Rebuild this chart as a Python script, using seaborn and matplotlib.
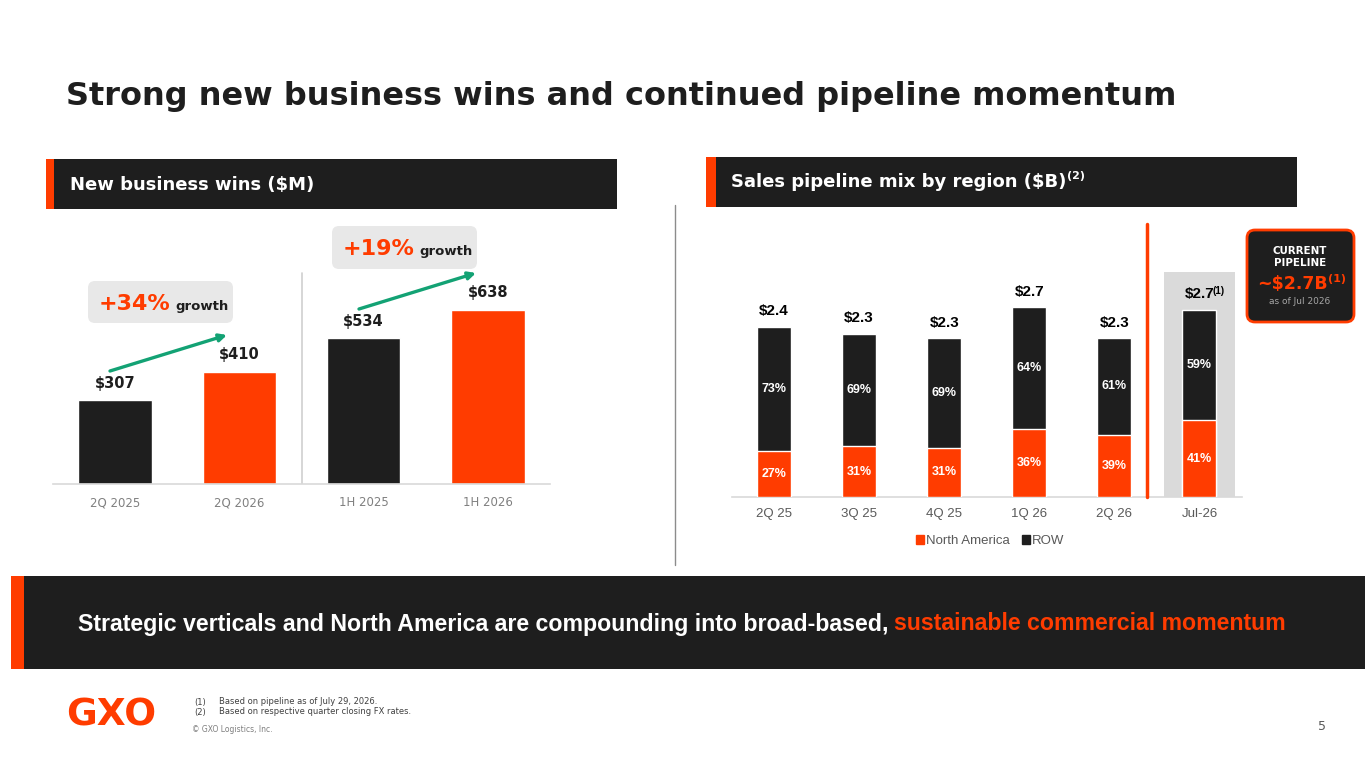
import matplotlib
matplotlib.use('Agg')
import matplotlib.pyplot as plt
from matplotlib.patches import FancyBboxPatch, Rectangle, Patch
import seaborn as sns

# ---- data ----
wins_periods = ['2Q 2025', '2Q 2026', '1H 2025', '1H 2026']
wins_values = [307, 410, 534, 638]
wins_labels = ['$307', '$410', '$534', '$638']
growth_labels = ['+34%', '+19%']

pipe_periods = ['2Q 25', '3Q 25', '4Q 25', '1Q 26', '2Q 26', 'Jul-26']
pipe_totals = [2.42, 2.32, 2.26, 2.70, 2.26, 2.66]
pipe_total_labels = ['$2.4', '$2.3', '$2.3', '$2.7', '$2.3', '$2.7']
na_share = [27, 31, 31, 36, 39, 41]
row_share = [73, 69, 69, 64, 61, 59]

ORANGE = '#FF3C00'
DARK = '#1E1E1E'
GREEN = '#13A274'

sns.set_theme(style='white')
plt.rcParams['font.family'] = ['DejaVu Sans']

W, H = 1365, 768
fig = plt.figure(figsize=(W / 100, H / 100), dpi=100)
fig.patch.set_facecolor('white')

# overlay in pixel coords for slide furniture (behind the charts)
bg = fig.add_axes([0, 0, 1, 1], zorder=0)
bg.set_xlim(0, W)
bg.set_ylim(H, 0)
bg.axis('off')
# overlay on top, for superscripts
fg = fig.add_axes([0, 0, 1, 1], zorder=5)
fg.set_xlim(0, W)
fg.set_ylim(H, 0)
fg.axis('off')
fg.patch.set_alpha(0)


def ax_rect(x0, y0, x1, y1):
    return [x0 / W, 1 - y1 / H, (x1 - x0) / W, (y1 - y0) / H]


def box(x0, y0, x1, y1, fc, **kw):
    bg.add_patch(Rectangle((x0, y0), x1 - x0, y1 - y0, facecolor=fc, edgecolor='none', **kw))


# title
bg.text(66, 97, 'Strong new business wins and continued pipeline momentum',
        fontsize=23, fontweight='heavy', color=DARK, va='center', ha='left')

# section headers
box(46, 159, 617, 209, DARK)
box(46, 159, 54, 209, ORANGE)
bg.text(70, 185, 'New business wins ($M)', color='white', fontsize=13,
        fontweight='bold', va='center')
box(706, 157, 1297, 207, DARK)
box(706, 157, 716, 207, ORANGE)
hdr2 = bg.text(731, 182, 'Sales pipeline mix by region ($B)', color='white',
               fontsize=13, fontweight='bold', va='center')

# panel divider
bg.plot([675, 675], [205, 565], color='#8C8C8C', lw=1)

# ---- left chart: new business wins ----
ax1 = fig.add_axes(ax_rect(53, 220, 550, 484), zorder=2)
ax1.patch.set_alpha(0)
sns.barplot(x=wins_periods, y=wins_values, hue=wins_periods,
            palette=[DARK, ORANGE, DARK, ORANGE], width=0.59, saturation=1,
            legend=False, ax=ax1)
ax1.set_xlim(-0.5, 3.5)
ax1.set_ylim(0, 968)
for s in ['top', 'right', 'left']:
    ax1.spines[s].set_visible(False)
ax1.spines['bottom'].set_color('#D9D9D9')
ax1.spines['bottom'].set_linewidth(1.2)
ax1.set_yticks([])
ax1.set_xlabel('')
ax1.set_ylabel('')
ax1.tick_params(axis='x', length=0, pad=9, labelsize=8.5, labelcolor='#808080')
ax1.axvline(1.5, ymin=0, ymax=0.80, color='#D0D0D0', lw=1.2)
for i, (v, lab) in enumerate(zip(wins_values, wins_labels)):
    ax1.annotate(lab, (i, v), xytext=(0, 7), textcoords='offset points',
                 ha='center', va='bottom', fontsize=10.5, fontweight='bold', color=DARK)

# growth callouts
for (x0, y0, x1, y1), lab, base in [((88, 281, 233, 323), growth_labels[0], 310),
                                    ((332, 226, 477, 269), growth_labels[1], 255)]:
    bg.add_patch(FancyBboxPatch((x0, y0), x1 - x0, y1 - y0,
                                boxstyle='round,pad=0,rounding_size=7',
                                facecolor='#E8E8E8', edgecolor='none'))
    t = bg.text(x0 + 11, base, lab, color=ORANGE, fontsize=16, fontweight='bold',
                va='baseline', ha='left')
    fig.canvas.draw()
    xe = t.get_window_extent().x1
    bg.text(xe + 5, base, 'growth', color=DARK, fontsize=9.5, fontweight='bold',
            va='baseline', ha='left')

arrow = dict(arrowstyle='-|>', color=GREEN, lw=2.4, mutation_scale=11,
             shrinkA=0, shrinkB=0)
bg.annotate('', xy=(227, 335), xytext=(110, 371), arrowprops=arrow)
bg.annotate('', xy=(476, 273), xytext=(359, 309), arrowprops=arrow)

# ---- right chart: pipeline mix ----
ax2 = fig.add_axes(ax_rect(731.5, 220, 1242, 497), zorder=2)
ax2.patch.set_alpha(0)
na_values = [t * s / 100 for t, s in zip(pipe_totals, na_share)]
ax2.add_patch(Rectangle((5 - 0.42, 0), 0.84, 3.2, facecolor='#DADADA',
                        edgecolor='none', zorder=0))
sns.barplot(x=pipe_periods, y=pipe_totals, color=DARK, width=0.40,
            saturation=1, ax=ax2, zorder=2)
sns.barplot(x=pipe_periods, y=na_values, color=ORANGE, width=0.40,
            saturation=1, ax=ax2, zorder=3)
ax2.plot([4.38, 4.38], [0, 3.88], color=ORANGE, lw=2.5, zorder=4, clip_on=False)
ax2.set_xlim(-0.5, 5.5)
ax2.set_ylim(0, 3.935)
for s in ['top', 'right', 'left']:
    ax2.spines[s].set_visible(False)
ax2.spines['bottom'].set_color('#D9D9D9')
ax2.spines['bottom'].set_linewidth(1.2)
ax2.set_yticks([])
ax2.set_xlabel('')
ax2.set_ylabel('')
ax2.tick_params(axis='x', length=0, pad=8, labelsize=9.5, labelcolor='#595959')
for lab in ax2.get_xticklabels():
    lab.set_family('Liberation Sans')

total_txt = []
for i, (tot, na, pn, pr, lab) in enumerate(zip(pipe_totals, na_values, na_share,
                                              row_share, pipe_total_labels)):
    ax2.text(i, na / 2, f'{pn}%', ha='center', va='center', color='white',
             fontsize=9, fontweight='bold', family='Liberation Sans', zorder=5)
    ax2.text(i, na + (tot - na) / 2, f'{pr}%', ha='center', va='center',
             color='white', fontsize=9, fontweight='bold',
             family='Liberation Sans', zorder=5)
    total_txt.append(ax2.annotate(lab, (i, tot), xytext=(0, 6),
                                  textcoords='offset points', ha='center',
                                  va='bottom', fontsize=11, fontweight='bold',
                                  color='black', family='Liberation Sans'))

ax2.legend(handles=[Patch(color=ORANGE), Patch(color=DARK)],
           labels=['North America', 'ROW'], loc='center',
           bbox_to_anchor=(990 / W, 1 - 541 / H), bbox_transform=fig.transFigure,
           ncol=2, frameon=False, handlelength=0.6, handleheight=0.6,
           handletextpad=0.15, columnspacing=0.9,
           prop={'family': 'Liberation Sans', 'size': 9.5}, labelcolor='#595959')

# current pipeline callout
bg.add_patch(FancyBboxPatch((1247, 230), 107, 92, boxstyle='round,pad=0,rounding_size=8',
                            facecolor=DARK, edgecolor=ORANGE, lw=2))
bg.text(1300, 251, 'CURRENT', color='white', fontsize=7.4, fontweight='bold',
        ha='center', va='center')
bg.text(1300, 263, 'PIPELINE', color='white', fontsize=7.4, fontweight='bold',
        ha='center', va='center')
big = bg.text(1292, 284, '~$2.7B', color=ORANGE, fontsize=12.5, fontweight='heavy',
              ha='center', va='center')
bg.text(1300, 301, 'as of Jul 2026', color='#A6A6A6', fontsize=6.5,
        ha='center', va='center')

# superscripts placed after measured text
fig.canvas.draw()


def superscript(t, s, size, color, dx=1, dy=0):
    bb = t.get_window_extent()
    fg.text(bb.x1 + dx, H - bb.y1 + dy, s, color=color, fontsize=size,
            fontweight='bold', ha='left', va='top', family=t.get_family())


superscript(hdr2, '(2)', 8, 'white', dy=-2)
superscript(big, '(1)', 8, ORANGE, dy=-1)
superscript(total_txt[-1], '(1)', 7, 'black', dx=-2, dy=-1)

# bottom banner
box(11, 576, 1365, 669, DARK)
box(11, 576, 24, 669, ORANGE)
b1 = bg.text(78, 624, 'Strategic verticals and North America are compounding into broad-based,',
             color='white', fontsize=16.7, fontweight='bold', family='Liberation Sans',
             va='center', ha='left')
fig.canvas.draw()
bx = b1.get_window_extent().x1
bg.text(bx + 6, 624, 'sustainable commercial momentum', color=ORANGE, fontsize=16.7,
        fontweight='bold', family='Liberation Sans', va='center', ha='left')

# footer
bg.text(66, 715, 'GXO', color=ORANGE, fontsize=27, fontweight='heavy', va='center',
        ha='left')
for y, n, s in [(702, '(1)', 'Based on pipeline as of July 29, 2026.'),
                (712, '(2)', 'Based on respective quarter closing FX rates.')]:
    bg.text(194, y, n, fontsize=6, color='#404040', va='center')
    bg.text(219, y, s, fontsize=6, color='#404040', va='center')
bg.text(192, 729, '© GXO Logistics, Inc.', fontsize=5.5, color='#7F7F7F', va='center')
bg.text(1322, 727, '5', fontsize=9, color='#595959', va='center', ha='center')

fig.savefig('out.png', dpi=100, facecolor='white')
